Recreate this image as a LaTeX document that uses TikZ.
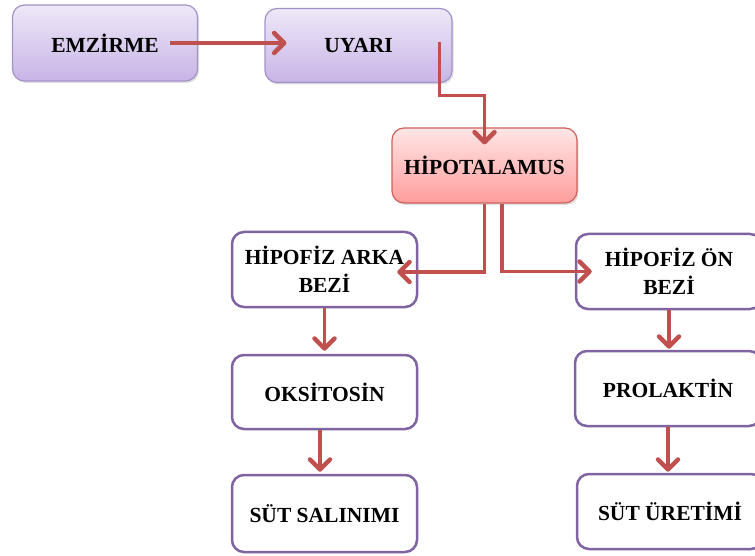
\documentclass[tikz,border=0pt]{standalone}
\usepackage{fontspec}
\setmainfont{Liberation Serif}
\usetikzlibrary{arrows.meta,shadows}
\definecolor{arrowred}{HTML}{C0504D}
\definecolor{purpleborder}{HTML}{8064A2}
\definecolor{lavtop}{HTML}{EEE8F8}
\definecolor{lavbot}{HTML}{C8B4E6}
\definecolor{lavborder}{HTML}{A193C8}
\definecolor{pinktop}{HTML}{FFE6E6}
\definecolor{pinkbot}{HTML}{FF9C9C}
\definecolor{pinkborder}{HTML}{D0605C}
\tikzset{
  boxbase/.style={rectangle, rounded corners=12pt, minimum width=185pt, minimum height=75pt,
    align=center, inner sep=2pt, font=\bfseries\fontsize{21.5}{28}\selectfont},
  lavbox/.style={boxbase, draw=lavborder, line width=1.2pt, top color=lavtop, bottom color=lavbot,
    drop shadow={opacity=0.25, shadow xshift=1.5pt, shadow yshift=-2pt}},
  pinkbox/.style={boxbase, draw=pinkborder, line width=1.2pt, top color=pinktop, bottom color=pinkbot,
    drop shadow={opacity=0.25, shadow xshift=1.5pt, shadow yshift=-2pt}},
  whitebox/.style={boxbase, draw=purpleborder, line width=2.5pt, fill=white},
  arr/.style={draw=arrowred, line width=3.5pt, line join=miter,
    -{Straight Barb[length=10pt,width=20pt,line width=4.5pt,round]}}
}
\begin{document}
\begin{tikzpicture}[x=1pt,y=-1pt]
\useasboundingbox (0,0) rectangle (755,556);
\node[lavbox, minimum height=76pt] (emz) at (105,43) {EMZİRME};
\node[lavbox, minimum width=187pt, minimum height=74pt] (uya) at (358.5,45.5) {UYARI};
\node[pinkbox] (hip) at (484.5,165.5) {HİPOTALAMUS};
\node[whitebox] (ark) at (324.5,269.5) {HİPOFİZ ARKA\\BEZİ};
\node[whitebox, minimum width=186pt] (on) at (669,271.5) {HİPOFİZ ÖN\\BEZİ};
\node[whitebox, minimum height=74pt] (oks) at (324.5,392) {OKSİTOSİN};
\node[whitebox, minimum width=186pt] (pro) at (668,388.5) {PROLAKTİN};
\node[whitebox, minimum height=77pt] (sal) at (324.5,513.5) {SÜT SALINIMI};
\node[whitebox, minimum width=186pt] (ure) at (670,511.5) {SÜT ÜRETİMİ};

\draw[arr] ([xshift=-28pt]emz.east) -- ([xshift=22pt]uya.west |- emz.east);
\draw[arr] ([xshift=-13pt,yshift=3pt]uya.east) -- ++(0,53) -| ([yshift=-17pt]hip.north);
\draw[arr] (hip.south) |- ([xshift=-21pt,yshift=-2.5pt]ark.east);
\draw[arr] ([xshift=17.5pt]hip.south) |- ([xshift=17pt]on.west);
\draw[arr] (ark.south) -- ([yshift=3pt]oks.north);
\draw[arr] ([xshift=-4.5pt]oks.south) -- ([xshift=-4.5pt,yshift=2pt]sal.north);
\draw[arr] (on.south) -- ([yshift=1pt]on.south |- pro.north);
\draw[arr] (pro.south) -- ([yshift=1pt]pro.south |- ure.north);
\end{tikzpicture}
\end{document}
